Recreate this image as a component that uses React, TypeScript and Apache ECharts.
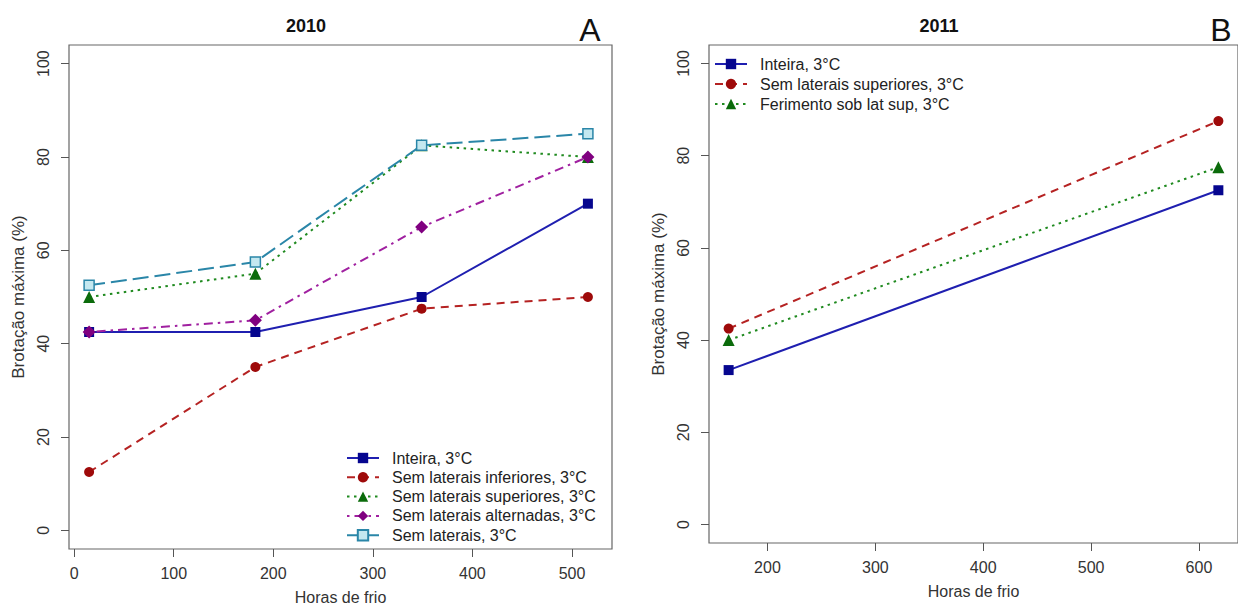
import React, { useEffect, useRef } from "react";
import * as echarts from "echarts";

// ---------- Data ----------
const hoursA = [15, 182, 349, 516];
const inteiraA = [42.5, 42.5, 50, 70];
const semInferioresA = [12.5, 35, 47.5, 50];
const semSuperioresA = [50, 55, 82.5, 80];
const semAlternadasA = [42.5, 45, 65, 80];
const semLateraisA = [52.5, 57.5, 82.5, 85];

const hoursB = [164, 618];
const inteiraB = [33.5, 72.5];
const semSuperioresB = [42.5, 87.5];
const ferimentoB = [40, 77.5];

const yTicks = [0, 20, 40, 60, 80, 100];
const xTicksA = [0, 100, 200, 300, 400, 500];
const xTicksB = [200, 300, 400, 500, 600];

const namesA = [
  "Inteira, 3°C",
  "Sem laterais inferiores, 3°C",
  "Sem laterais superiores, 3°C",
  "Sem laterais alternadas, 3°C",
  "Sem laterais, 3°C",
];
const namesB = [
  "Inteira, 3°C",
  "Sem laterais superiores, 3°C",
  "Ferimento sob lat sup, 3°C",
];

const FONT = "'Liberation Sans', Arial, Helvetica, sans-serif";

type Sty = {
  line: string;
  fill: string;
  border?: string;
  dash: any;
  symbol: string;
  size: number;
};

const styles: Record<string, Sty> = {
  inteira: { line: "#1f1fb0", fill: "#06068f", dash: "solid", symbol: "rect", size: 10 },
  inferiores: { line: "#b52222", fill: "#9e0a0a", dash: [8, 6], symbol: "circle", size: 10 },
  superiores: { line: "#1f8a1f", fill: "#0b6b0b", dash: [2.5, 4.5], symbol: "triangle", size: 12 },
  alternadas: { line: "#a020a0", fill: "#800080", dash: [2.5, 5, 9, 5], symbol: "diamond", size: 13 },
  laterais: { line: "#2a86a8", fill: "#c4e8f0", border: "#2a86a8", dash: [16, 6], symbol: "rect", size: 10 },
};

function pairs(xs: number[], ys: number[]) {
  return xs.map((x, i) => [x, ys[i]]);
}

function mkSeries(name: string, xs: number[], ys: number[], s: Sty, idx: number) {
  return {
    type: "line",
    name,
    xAxisIndex: idx,
    yAxisIndex: idx,
    data: pairs(xs, ys),
    symbol: s.symbol,
    symbolSize: s.size,
    showAllSymbol: true,
    color: s.fill,
    lineStyle: { color: s.line, width: 2, type: s.dash },
    itemStyle: s.border
      ? { color: s.fill, borderColor: s.border, borderWidth: 1.5 }
      : { color: s.fill, borderWidth: 0 },
    emphasis: { disabled: true },
    z: 3,
  };
}

function xAxis(idx: number, min: number, max: number, ticks: number[]) {
  return {
    type: "value",
    gridIndex: idx,
    min,
    max,
    axisLine: { show: false, onZero: false },
    splitLine: { show: false },
    axisTick: { show: true, length: 8, lineStyle: { color: "#555", width: 1 }, customValues: ticks },
    axisLabel: { customValues: ticks, margin: 16, fontSize: 16, color: "#333", fontFamily: FONT },
    name: "Horas de frio",
    nameLocation: "middle",
    nameGap: 40,
    nameTextStyle: { fontSize: 16, color: "#333", fontFamily: FONT },
  };
}

function yAxis(idx: number) {
  return {
    type: "value",
    gridIndex: idx,
    min: -4,
    max: 104,
    axisLine: { show: false, onZero: false },
    splitLine: { show: false },
    axisTick: { show: true, length: 8, lineStyle: { color: "#555", width: 1 }, customValues: yTicks },
    axisLabel: { customValues: yTicks, rotate: 90, margin: 18, fontSize: 16, color: "#333", fontFamily: FONT },
    name: "Brotação máxima (%)",
    nameLocation: "middle",
    nameGap: 42,
    nameTextStyle: { fontSize: 17, color: "#333", fontFamily: FONT },
  };
}

export default function App() {
  const ref = useRef<HTMLDivElement>(null);

  useEffect(() => {
    if (!ref.current) return;
    const chart = echarts.init(ref.current, null, { renderer: "svg" });

    const seriesA = [
      mkSeries("A|" + namesA[0], hoursA, inteiraA, styles.inteira, 0),
      mkSeries("A|" + namesA[1], hoursA, semInferioresA, styles.inferiores, 0),
      mkSeries("A|" + namesA[2], hoursA, semSuperioresA, styles.superiores, 0),
      mkSeries("A|" + namesA[3], hoursA, semAlternadasA, styles.alternadas, 0),
      mkSeries("A|" + namesA[4], hoursA, semLateraisA, styles.laterais, 0),
    ];
    const seriesB = [
      mkSeries("B|" + namesB[0], hoursB, inteiraB, styles.inteira, 1),
      mkSeries("B|" + namesB[1], hoursB, semSuperioresB, styles.inferiores, 1),
      mkSeries("B|" + namesB[2], hoursB, ferimentoB, styles.superiores, 1),
    ];

    const legendCommon = {
      orient: "vertical",
      itemHeight: 13,
      selectedMode: false,
      formatter: (n: string) => n.slice(2),
      textStyle: { fontSize: 16, color: "#222", fontFamily: FONT, padding: [0, 0, 0, 8] },
      lineStyle: { width: 2 },
      padding: 0,
    };

    chart.setOption({
      animation: false,
      backgroundColor: "#ffffff",
      grid: [
        { left: 69, top: 45, width: 543, height: 508, show: true, borderColor: "#666", borderWidth: 1.2, containLabel: false },
        { left: 709, top: 45, width: 534, height: 498, show: true, borderColor: "#666", borderWidth: 1.2, containLabel: false },
      ],
      xAxis: [xAxis(0, -5.2, 540.2, xTicksA), xAxis(1, 145.8, 636.2, xTicksB)],
      yAxis: [yAxis(0), yAxis(1)],
      legend: [
        {
          ...legendCommon,
          left: 346,
          top: 450,
          itemWidth: 32,
          itemGap: 3.3,
          data: seriesA.map((s) => s.name),
        },
        {
          ...legendCommon,
          left: 714,
          top: 56,
          itemWidth: 32,
          itemGap: 4,
          data: seriesB.map((s) => s.name),
        },
      ],
      graphic: [
        { type: "text", x: 306, y: 26, style: { text: "2010", font: `bold 18px ${FONT}`, fill: "#111", textAlign: "center", textVerticalAlign: "middle" } },
        { type: "text", x: 939, y: 26, style: { text: "2011", font: `bold 18px ${FONT}`, fill: "#111", textAlign: "center", textVerticalAlign: "middle" } },
        { type: "text", x: 590, y: 30, style: { text: "A", font: `32px ${FONT}`, fill: "#111", textAlign: "center", textVerticalAlign: "middle" } },
        { type: "text", x: 1221, y: 30, style: { text: "B", font: `32px ${FONT}`, fill: "#111", textAlign: "center", textVerticalAlign: "middle" } },
      ],
      series: [...seriesA, ...seriesB],
    });

    return () => chart.dispose();
  }, []);

  return (
    <div
      ref={ref}
      style={{ position: "fixed", left: 0, top: 0, width: 1238, height: 610, background: "#fff" }}
    />
  );
}
